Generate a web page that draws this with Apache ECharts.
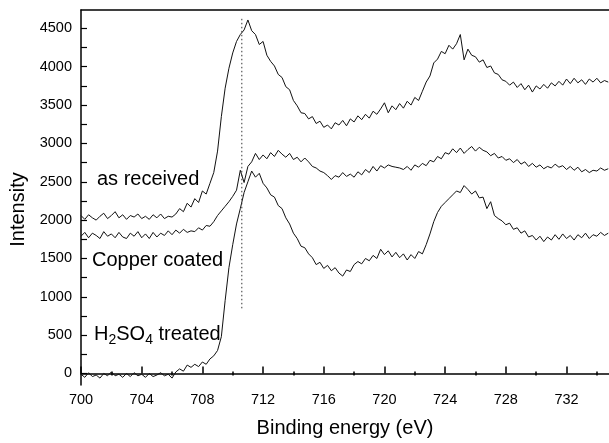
<!DOCTYPE html>
<html lang="en">
<head>
<meta charset="UTF-8">
<title>Binding energy</title>
<script src="https://cdn.jsdelivr.net/npm/echarts@6/dist/echarts.min.js"></script>
<style>
    html, body { margin: 0; padding: 0; background: #fff; }
    #chart { width: 609px; height: 443px; }
</style>
</head>
<body>
<div id="chart"></div>
<script>
// binding energy grid (eV), one reading every 0.25 eV
var energy = [
    700, 700.25, 700.5, 700.75, 701, 701.25, 701.5, 701.75,
    702, 702.25, 702.5, 702.75, 703, 703.25, 703.5, 703.75,
    704, 704.25, 704.5, 704.75, 705, 705.25, 705.5, 705.75,
    706, 706.25, 706.5, 706.75, 707, 707.25, 707.5, 707.75,
    708, 708.25, 708.5, 708.75, 709, 709.25, 709.5, 709.75,
    710, 710.25, 710.5, 710.75, 711, 711.25, 711.5, 711.75,
    712, 712.25, 712.5, 712.75, 713, 713.25, 713.5, 713.75,
    714, 714.25, 714.5, 714.75, 715, 715.25, 715.5, 715.75,
    716, 716.25, 716.5, 716.75, 717, 717.25, 717.5, 717.75,
    718, 718.25, 718.5, 718.75, 719, 719.25, 719.5, 719.75,
    720, 720.25, 720.5, 720.75, 721, 721.25, 721.5, 721.75,
    722, 722.25, 722.5, 722.75, 723, 723.25, 723.5, 723.75,
    724, 724.25, 724.5, 724.75, 725, 725.25, 725.5, 725.75,
    726, 726.25, 726.5, 726.75, 727, 727.25, 727.5, 727.75,
    728, 728.25, 728.5, 728.75, 729, 729.25, 729.5, 729.75,
    730, 730.25, 730.5, 730.75, 731, 731.25, 731.5, 731.75,
    732, 732.25, 732.5, 732.75, 733, 733.25, 733.5, 733.75,
    734, 734.25, 734.5, 734.75
];

var asReceived = [
    2060, 2010, 2070, 2030, 2000, 2050, 2090, 2020,
    2060, 2110, 2030, 2070, 2010, 2060, 2040, 2080,
    2020, 2050, 2010, 2070, 2030, 2080, 2020, 2050,
    2040, 2080, 2150, 2110, 2220, 2170, 2280, 2230,
    2380, 2340, 2480, 2620, 2900, 3350, 3720, 3980,
    4180, 4330, 4420, 4480, 4610, 4470, 4420, 4290,
    4330, 4150, 4070, 4010, 3900, 3860, 3740, 3700,
    3560, 3490, 3400, 3390, 3320, 3350, 3260, 3290,
    3210, 3240, 3190, 3270, 3240, 3300, 3230, 3320,
    3280, 3360, 3310, 3380, 3330, 3420, 3380, 3450,
    3530, 3400, 3490, 3440, 3520, 3460, 3550, 3500,
    3600, 3560, 3680, 3800, 3880, 4050, 4100, 4200,
    4170, 4280, 4230, 4300, 4420, 4090, 4230, 4150,
    4130, 4060, 4090, 3990, 4010, 3920, 3900, 3830,
    3810, 3760, 3800, 3730, 3780, 3700, 3760, 3670,
    3750, 3710, 3770, 3720, 3790, 3750, 3810, 3760,
    3840, 3780, 3850, 3790, 3830, 3770, 3840, 3800,
    3850, 3790, 3820, 3800
];

var copperCoated = [
    1790, 1840, 1770, 1830, 1800, 1760, 1850, 1790,
    1820, 1770, 1840, 1780, 1760, 1830, 1790, 1850,
    1770, 1820, 1760, 1840, 1780, 1830, 1800, 1860,
    1810, 1870, 1830, 1880, 1840, 1860, 1850, 1900,
    1870, 1930, 1920, 1980, 2060, 2120, 2180, 2240,
    2310, 2390, 2650, 2490, 2700, 2760, 2870, 2790,
    2850, 2800, 2880, 2830, 2910, 2860, 2820, 2870,
    2790, 2820, 2760, 2810, 2760, 2700, 2680, 2640,
    2620, 2580, 2530, 2580, 2560, 2620, 2570, 2600,
    2560, 2630, 2590, 2660, 2620, 2700, 2640, 2710,
    2680, 2720, 2700, 2690, 2680, 2660, 2700, 2650,
    2720, 2690, 2740, 2710, 2780, 2760, 2830, 2800,
    2880, 2860, 2930, 2880, 2940, 2870, 2920, 2960,
    2900, 2950, 2910, 2890, 2840, 2870, 2810, 2830,
    2780, 2800, 2750, 2790, 2730, 2760, 2700, 2740,
    2690, 2720, 2670, 2700, 2680, 2730, 2690, 2710,
    2660, 2700, 2650, 2690, 2630, 2660, 2620, 2650,
    2640, 2680, 2650, 2670
];

var acidTreated = [
    -10, -50, 10, -40, -20, -60, 0, -30,
    20, -30, -10, -50, 0, -40, 10, -30,
    -10, -50, 0, -40, -20, 10, -30, -10,
    -60, 20, 60, 30, 110, 80, 120, 90,
    150, 120, 190, 230, 300, 480, 950, 1380,
    1680, 1950, 2150, 2360, 2500, 2640, 2560, 2610,
    2480, 2420, 2330, 2300, 2190, 2150, 2030, 1950,
    1830, 1760, 1660, 1640, 1560, 1510, 1420, 1450,
    1370, 1410, 1340, 1380, 1310, 1270, 1350, 1330,
    1420, 1460, 1430, 1500, 1470, 1540, 1500, 1620,
    1550, 1600, 1520, 1580, 1510, 1560, 1480, 1550,
    1500, 1590, 1560, 1680, 1820, 1980, 2100, 2180,
    2230, 2280, 2330, 2380, 2360, 2450, 2400, 2340,
    2380, 2290, 2300, 2150, 2240, 2060, 2020, 1990,
    1940, 1960, 1880, 1900, 1830, 1860, 1780, 1800,
    1740, 1790, 1720, 1780, 1740, 1810, 1750, 1820,
    1760, 1800, 1740, 1810, 1770, 1830, 1760, 1810,
    1790, 1840, 1800, 1830
];

var xMajorTicks = [700, 704, 708, 712, 716, 720, 724, 728, 732];
var xMinorTicks = [702, 706, 710, 714, 718, 722, 726, 730, 734];
var yLabels = [0, 500, 1000, 1500, 2000, 2500, 3000, 3500, 4000, 4500];
var yTicks = [0, 250, 500, 750, 1000, 1250, 1500, 1750, 2000, 2250, 2500,
              2750, 3000, 3250, 3500, 3750, 4000, 4250, 4500];
var markerEnergy = 710.6;
var markerRange = [850, 4650];

var X_MIN = 700, X_MAX = 734.8, Y_MIN = -150, Y_MAX = 4740;
var FONT = '"Liberation Sans", Arial, Helvetica, sans-serif';

function pairs(ys) {
    return energy.map(function (x, i) { return [x, ys[i]]; });
}

function curve(name, ys) {
    return {
        name: name,
        type: 'line',
        xAxisIndex: 0,
        yAxisIndex: 0,
        data: pairs(ys),
        showSymbol: false,
        lineStyle: { color: '#111', width: 1 },
        silent: true
    };
}

var chart = echarts.init(document.getElementById('chart'));

var option = {
    animation: false,
    backgroundColor: '#fff',
    textStyle: { fontFamily: FONT, color: '#000' },
    grid: [
        { left: 81, right: 0, top: 10, bottom: 56 },
        { left: 81, right: 0, top: 10, bottom: 56 }
    ],
    xAxis: [
        {
            gridIndex: 0, type: 'value', position: 'bottom',
            min: X_MIN, max: X_MAX,
            name: 'Binding energy (eV)', nameLocation: 'middle', nameGap: 33,
            nameTextStyle: { fontSize: 20, color: '#000', fontFamily: FONT },
            axisLine: { lineStyle: { color: '#000', width: 1.5 } },
            axisTick: { inside: true, length: 7, customValues: xMajorTicks,
                        lineStyle: { color: '#000', width: 1.5 } },
            axisLabel: { customValues: xMajorTicks, fontSize: 14.5, color: '#000', margin: 7, fontFamily: FONT,
                         formatter: function (v) { return String(v); } },
            splitLine: { show: false }
        },
        {
            gridIndex: 0, type: 'value', position: 'top',
            min: X_MIN, max: X_MAX,
            axisLine: { lineStyle: { color: '#000', width: 1.5 } },
            axisTick: { show: false },
            axisLabel: { show: false },
            splitLine: { show: false }
        },
        {
            gridIndex: 1, type: 'value', position: 'bottom',
            min: X_MIN, max: X_MAX,
            axisLine: { show: false },
            axisTick: { inside: true, length: 4, customValues: xMinorTicks,
                        lineStyle: { color: '#000', width: 1.5 } },
            axisLabel: { show: false },
            splitLine: { show: false }
        }
    ],
    yAxis: [
        {
            gridIndex: 0, type: 'value', position: 'left',
            min: Y_MIN, max: Y_MAX,
            name: 'Intensity', nameLocation: 'middle', nameGap: 53,
            nameTextStyle: { fontSize: 20, color: '#000', fontFamily: FONT, padding: [0, 24, 0, 0] },
            axisLine: { lineStyle: { color: '#000', width: 1.5 } },
            axisTick: { inside: true, length: 6, customValues: yTicks,
                        lineStyle: { color: '#000', width: 1.2 } },
            axisLabel: { customValues: yLabels, fontSize: 14.5, color: '#000', margin: 9, fontFamily: FONT,
                         formatter: function (v) { return String(v); } },
            splitLine: { show: false }
        },
        {
            gridIndex: 1, type: 'value', show: false,
            min: Y_MIN, max: Y_MAX
        }
    ],
    series: [
        curve('as received', asReceived),
        curve('Copper coated', copperCoated),
        curve('H2SO4 treated', acidTreated),
        {
            name: 'marker',
            type: 'line',
            xAxisIndex: 0,
            yAxisIndex: 0,
            data: [[markerEnergy, markerRange[0]], [markerEnergy, markerRange[1]]],
            showSymbol: false,
            silent: true,
            lineStyle: { color: '#333', width: 1, type: [1.5, 2.5] }
        }
    ],
    graphic: [
        { type: 'text', left: 97, top: 169,
          style: { text: 'as received', font: '20px ' + FONT, fill: '#000' } },
        { type: 'text', left: 92, top: 250,
          style: { text: 'Copper coated', font: '20px ' + FONT, fill: '#000' } },
        { type: 'text', left: 94, top: 324,
          style: {
              text: 'H{s|2}SO{s|4} treated',
              font: '20px ' + FONT, fill: '#000',
              rich: { s: { fontSize: 14, fontFamily: FONT, verticalAlign: 'bottom', padding: [12, 0, 0, 0] } }
          } }
    ]
};

chart.setOption(option);
</script>
</body>
</html>
